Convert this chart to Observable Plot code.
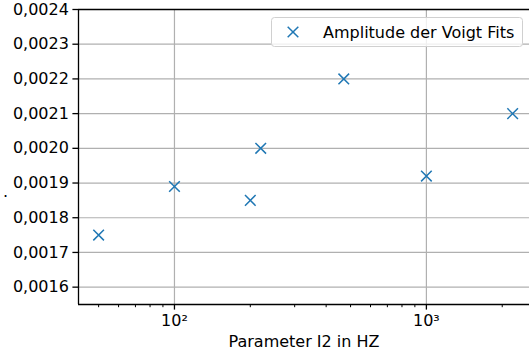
<!DOCTYPE html>
<html>
<head>
<meta charset="utf-8">
<script src="https://cdn.jsdelivr.net/npm/d3@7"></script>
<script src="https://cdn.jsdelivr.net/npm/@observablehq/plot@0.6"></script>
<style>
  body { margin: 0; background: #fff; }
  #chart svg { font-family: "DejaVu Sans", sans-serif; }
</style>
</head>
<body>
<div id="chart"></div>
<script>
const frequencies = [50, 100, 200, 220, 470, 1000, 2200];
const amplitudes = [0.00175, 0.00189, 0.00185, 0.00200, 0.00220, 0.00192, 0.00210];
const yTicks = [0.0016, 0.0017, 0.0018, 0.0019, 0.0020, 0.0021, 0.0022, 0.0023, 0.0024];
const xMajor = [100, 1000];
const xMinor = [50, 60, 70, 80, 90, 200, 300, 400, 500, 600, 700, 800, 900, 2000];
const seriesName = "Amplitude der Voigt Fits";
const xLabel = "Parameter I2 in HZ";
const yLabel = ".";

const data = frequencies.map((f, i) => ({f, a: amplitudes[i]}));
const fmtY = d => d.toFixed(4).replace(".", ",");
const sup = {"2": "²", "3": "³"};
const fmtX = d => "10" + sup[String(Math.round(Math.log10(d)))];

const xDomain = [41.6, 2566];
const yDomain = [0.00155, 0.0024];

const chart = Plot.plot({
  width: 529,
  height: 356,
  marginLeft: 78,
  marginRight: 0,
  marginTop: 9,
  marginBottom: 52,
  style: {fontSize: "16px", fontFamily: "DejaVu Sans, sans-serif", color: "#000", background: "#fff"},
  x: {type: "log", domain: xDomain},
  y: {domain: yDomain},
  marks: [
    Plot.gridY(yTicks, {stroke: "#b0b0b0", strokeOpacity: 1, strokeWidth: 1.2}),
    Plot.gridX(xMajor, {stroke: "#b0b0b0", strokeOpacity: 1, strokeWidth: 1.2}),
    Plot.axisY({ticks: yTicks, tickFormat: fmtY, tickSize: 5.6, tickPadding: 4, strokeWidth: 1.3,
      fontSize: 16, label: null}),
    Plot.axisX({ticks: xMajor, tickFormat: fmtX, tickSize: 5.6, tickPadding: 5, strokeWidth: 1.3,
      fontSize: 16, label: xLabel, labelAnchor: "center", labelArrow: "none", labelOffset: 42}),
    Plot.axisX({ticks: xMinor, tickFormat: () => "", tickSize: 3.2, strokeWidth: 1, label: null}),
    Plot.ruleX([xDomain[0]], {stroke: "#000", strokeWidth: 1.3}),
    Plot.ruleY([yDomain[0], yDomain[1]], {stroke: "#000", strokeWidth: 1.3}),
    Plot.dot(data, {x: "f", y: "a", symbol: "times", r: 4.9, stroke: "#1f77b4", strokeWidth: 1.5})
  ]
});
document.getElementById("chart").appendChild(chart);

const svg = d3.select(chart);
// y label
svg.append("text").attr("x", 3).attr("y", 197)
  .attr("text-anchor", "start").attr("font-size", 16).text(yLabel);
// legend box
const lg = svg.append("g").attr("font-family", "DejaVu Sans, sans-serif").attr("text-anchor", "start");
lg.append("rect").attr("x", 271.5).attr("y", 17.5).attr("width", 251).attr("height", 29)
  .attr("rx", 3).attr("fill", "#fff").attr("fill-opacity", 0.8).attr("stroke", "#d0d0d0");
lg.append("path").attr("d", d3.symbol(d3.symbolTimes, Math.PI * 4.9 * 4.9)())
  .attr("transform", "translate(293,32)").attr("fill", "none").attr("stroke", "#1f77b4").attr("stroke-width", 1.5);
lg.append("text").attr("x", 323).attr("y", 32).attr("dy", "0.35em").attr("font-size", 16).text(seriesName);
</script>
</body>
</html>
